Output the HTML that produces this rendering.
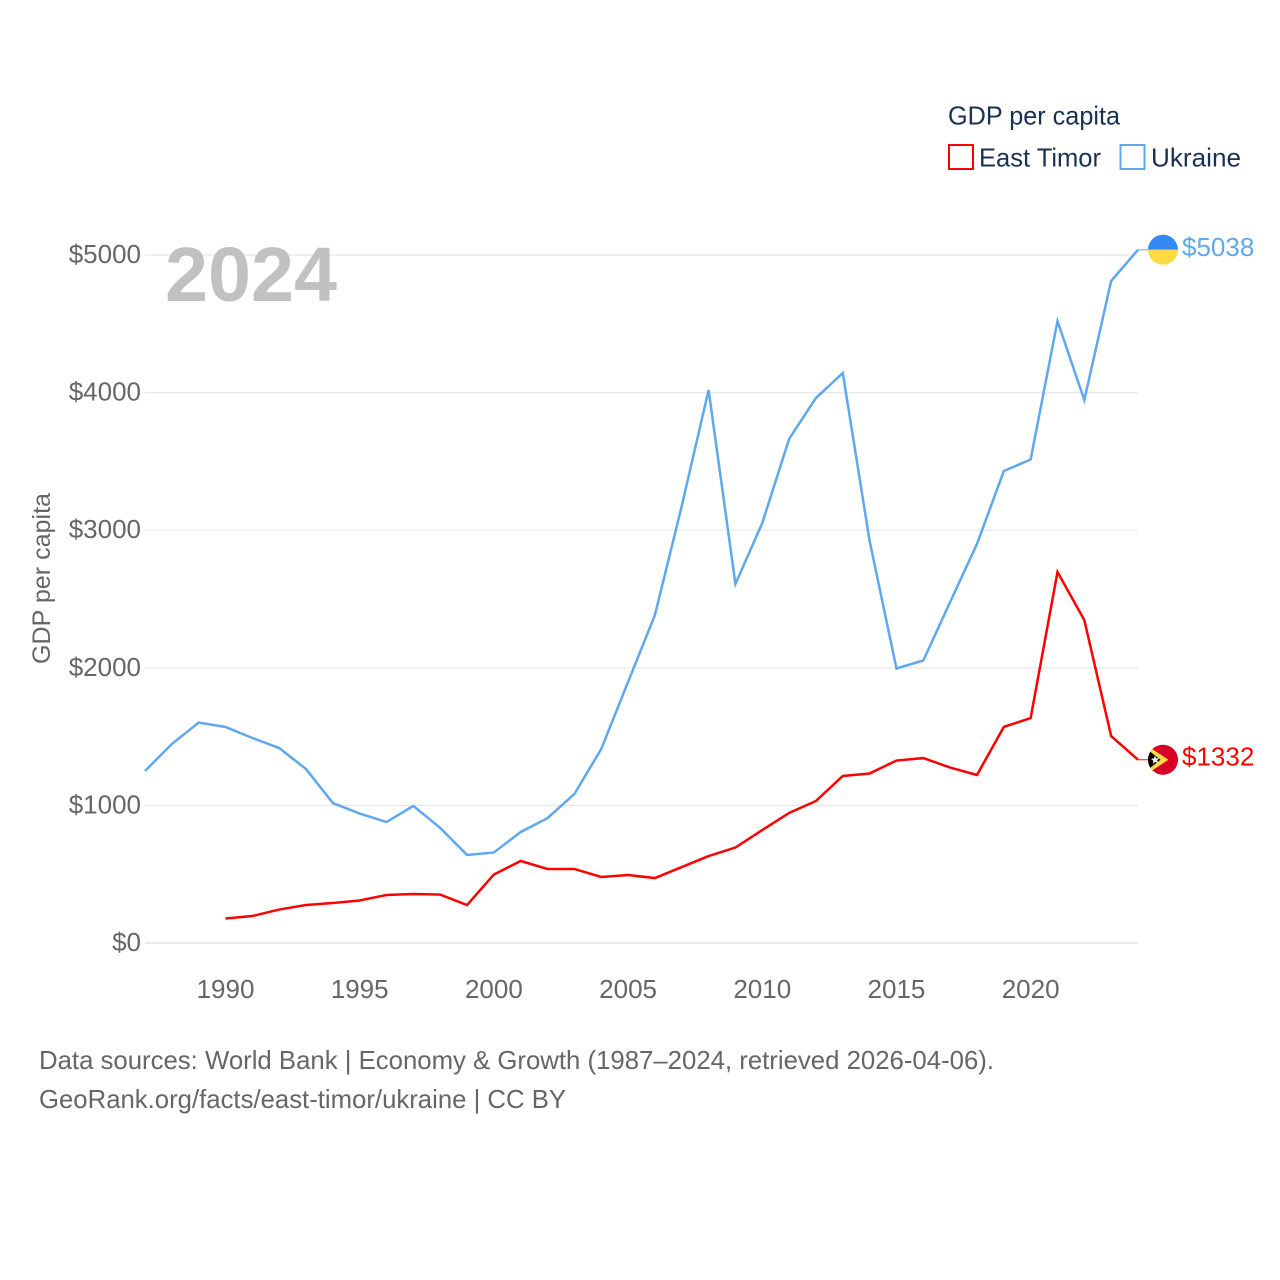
<!DOCTYPE html>
<html lang="en">
<head>
<meta charset="utf-8">
<title>GDP per capita: East Timor and Ukraine</title>
<style>
html,body{margin:0;padding:0;background:#fff;}
svg{display:block;}
text{font-family:"Liberation Sans",sans-serif;}
</style>
</head>
<body>
<svg id="chart" width="1280" height="1280" viewBox="0 0 1280 1280" xmlns="http://www.w3.org/2000/svg">
  <rect width="1280" height="1280" fill="#fff"/>
  <g id="grid"></g>
  <g id="yticks"></g>
  <g id="xticks"></g>
  <text x="165" y="301" font-size="77" font-weight="700" fill="#c1c1c1" textLength="172" lengthAdjust="spacingAndGlyphs">2024</text>
  <text transform="translate(50,664) rotate(-90)" font-size="25" fill="#666" textLength="171" lengthAdjust="spacingAndGlyphs">GDP per capita</text>
  <g id="series"></g>

  <g>
    <text x="948" y="124.5" font-size="26" fill="#1a3152" textLength="172" lengthAdjust="spacingAndGlyphs">GDP per capita</text>
    <g>
      <rect x="949" y="145" width="24" height="24" fill="none" stroke="#ff0000" stroke-width="2"/>
      <text x="979" y="166.5" font-size="26" fill="#1a3152" textLength="122" lengthAdjust="spacingAndGlyphs">East Timor</text>
    </g>
    <g>
      <rect x="1120.5" y="145" width="24" height="24" fill="none" stroke="#5fa8ee" stroke-width="2"/>
      <text x="1151" y="166.5" font-size="26" fill="#1a3152" textLength="90" lengthAdjust="spacingAndGlyphs">Ukraine</text>
    </g>
  </g>

  <g id="flag-ukraine"></g>
  <g id="flag-timor"></g>

  <g>
    <text x="39" y="1069" font-size="26" fill="#666" textLength="955" lengthAdjust="spacingAndGlyphs">Data sources: World Bank | Economy &amp; Growth (1987–2024, retrieved 2026-04-06).</text>
    <text x="39" y="1108" font-size="26" fill="#666" textLength="527" lengthAdjust="spacingAndGlyphs">GeoRank.org/facts/east-timor/ukraine | CC BY</text>
  </g>
</svg>
<script>
const yTickValues = [0, 1000, 2000, 3000, 4000, 5000];
const xTickYears = [1990, 1995, 2000, 2005, 2010, 2015, 2020];
const ukraineStartYear = 1987;
const ukraineValues = [1250, 1446, 1602, 1570, 1490, 1417, 1264, 1017, 941, 879, 996, 836, 640, 658, 807, 908, 1083, 1410, 1897, 2384, 3176, 4019, 2609, 3052, 3663, 3961, 4142, 2922, 1995, 2053, 2478, 2900, 3430, 3514, 4520, 3946, 4811, 5038];
const timorStartYear = 1990;
const timorValues = [178, 196, 243, 276, 291, 309, 349, 356, 352, 276, 498, 596, 538, 538, 480, 494, 472, 552, 632, 694, 821, 945, 1032, 1214, 1232, 1326, 1344, 1275, 1221, 1570, 1635, 2696, 2347, 1504, 1332];

const NS = 'http://www.w3.org/2000/svg';
function xScale(year) { return 145 + (year - 1987) * (1138 - 145) / 37; }
function yScale(value) { return 943 - value * 0.1376; }
function make(tag, parent, attrs) {
  const el = document.createElementNS(NS, tag);
  for (const k in attrs) el.setAttribute(k, attrs[k]);
  parent.appendChild(el);
  return el;
}

const grid = document.getElementById('grid');
const yticks = document.getElementById('yticks');
const xticks = document.getElementById('xticks');
const series = document.getElementById('series');

yTickValues.forEach(function (v) {
  const line = make('line', grid, { x1: 145, x2: 1138, y1: yScale(v), y2: yScale(v), stroke: v === 0 ? '#e2e2e2' : '#e8e8e8', 'stroke-width': v === 0 ? 1.5 : 1.2 });
  
  
  const label = make('text', yticks, { x: 141, y: yScale(v) + 8, 'text-anchor': 'end', 'font-size': 26, fill: '#666' });
  label.textContent = '$' + v;
  
  
});

xTickYears.forEach(function (year) {
  const label = make('text', xticks, { x: xScale(year), y: 998, 'text-anchor': 'middle', 'font-size': 26, fill: '#666' });
  label.textContent = String(year);
  
  
});

function drawSeries(values, startYear, color, key) {
  const points = values.map(function (v, i) { return xScale(startYear + i).toFixed(2) + ',' + yScale(v).toFixed(2); });
  const line = make('polyline', series, { points: points.join(' '), fill: 'none', stroke: color, 'stroke-width': 2.5, 'stroke-linejoin': 'miter' });
  
  
  const last = values[values.length - 1];
  const ly = yScale(last);
  const connector = make('line', series, { x1: 1138, x2: 1148, y1: ly, y2: ly, stroke: color, 'stroke-width': 1.2, opacity: 0.8 });
  
  
  const label = make('text', series, { x: 1182, y: ly + 6, 'font-size': 26, fill: color });
  label.textContent = '$' + last;
  
  
  return ly;
}

const uaY = drawSeries(ukraineValues, ukraineStartYear, '#5fa8ee', 'ukraine');
const tlY = drawSeries(timorValues, timorStartYear, '#ff0000', 'east-timor');

const flagUa = document.getElementById('flag-ukraine');
flagUa.setAttribute('transform', 'translate(1163,' + uaY + ')');
make('path', flagUa, { d: 'M-15 0A15 15 0 0 1 15 0Z', fill: '#338af3' });
make('path', flagUa, { d: 'M-15 0A15 15 0 0 0 15 0Z', fill: '#ffda44' });

const flagTl = document.getElementById('flag-timor');
flagTl.setAttribute('transform', 'translate(1163,' + tlY + ')');
make('circle', flagTl, { cx: 0, cy: 0, r: 15, fill: '#d80027' });
make('path', flagTl, { d: 'M-10.6 -10.6L5.5 0L-10.6 10.6A15 15 0 0 1 -10.6 -10.6Z', fill: '#ffda44' });
make('path', flagTl, { d: 'M-12.7 -8L-2.5 0L-12.7 8A15 15 0 0 1 -12.7 -8Z', fill: '#000' });
make('path', flagTl, { d: 'M-8 -4.2L-6.9 -1.4L-3.9 -1.6L-5.9 0.8L-4.7 3.6L-7.7 2.2L-10.1 4L-9.7 1L-12 -0.8L-9.1 -1.4Z', fill: '#f0f0f0' });
</script>
</body>
</html>
